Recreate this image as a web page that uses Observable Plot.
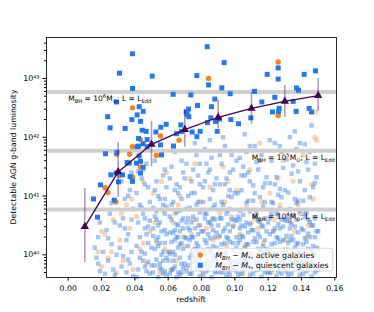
<!DOCTYPE html>
<html><head><meta charset="utf-8">
<script src="https://cdn.jsdelivr.net/npm/d3@7"></script>
<script src="https://cdn.jsdelivr.net/npm/@observablehq/plot@0.6"></script>
<style>
html,body{margin:0;padding:0;background:#fff;}
svg{font-family:"DejaVu Sans",sans-serif;}
</style>
</head><body>
<div id="chart"></div>
<script>
// ---- data (redshift, log10 luminosity) ----
const quiescentDetected = [[0.0386,43.42],[0.0308,43.09],[0.0386,42.83],[0.0290,42.60],[0.0426,42.52],[0.0450,42.44],[0.0414,42.38],[0.0237,42.35],[0.0252,42.16],[0.0342,42.15],[0.0382,42.30],[0.0434,42.27],[0.0468,42.10],[0.0422,41.98],[0.0422,41.85],[0.0474,41.96],[0.0526,42.09],[0.0556,42.17],[0.0588,42.22],[0.0632,41.85],[0.0630,42.73],[0.0676,42.21],[0.0708,42.43],[0.0722,42.48],[0.0504,43.04],[0.0292,41.74],[0.0224,41.72],[0.0680,42.10],[0.0834,43.54],[0.0936,43.27],[0.0772,43.05],[0.0842,42.89],[0.0922,42.84],[0.0972,42.74],[0.0736,42.72],[0.0880,42.65],[0.0776,42.54],[0.0860,42.52],[0.0724,42.35],[0.0856,42.33],[0.0908,42.31],[0.0976,42.30],[0.1022,42.23],[0.0894,42.10],[0.0836,42.25],[0.0792,42.10],[0.0772,42.01],[0.1096,42.33],[0.1162,42.60],[0.1194,43.07],[0.1240,42.68],[0.1226,42.43],[0.1260,43.18],[0.1260,42.99],[0.1118,42.78],[0.1350,42.61],[0.1370,42.84],[0.1382,42.80],[0.1416,43.07],[0.1484,43.13],[0.1368,42.44],[0.1446,42.49],[0.1460,42.43],[0.1262,42.44],[0.0152,40.95],[0.0176,40.64],[0.0194,41.19],[0.0276,40.93],[0.0256,41.36],[0.0288,41.39],[0.0372,41.33],[0.0366,41.56],[0.0410,41.56],[0.0434,41.39],[0.0434,41.59],[0.0326,41.36],[0.0302,41.24],[0.0386,41.25],[0.0414,41.84],[0.0450,41.89],[0.0354,41.57],[0.0426,41.68],[0.0450,41.49],[0.0444,42.12],[0.0650,42.06],[0.0744,42.09],[0.0560,41.70],[0.0474,41.84],[0.0554,41.87],[0.0884,42.27],[0.0714,42.39],[0.1266,42.49]];

const activeDetected = [[0.0386,42.50],[0.0434,41.96],[0.0554,42.02],[0.0665,41.95],[0.0385,41.84],[0.0290,41.71],[0.0369,41.71],[0.0529,41.69],[0.0843,43.00],[0.1260,43.28],[0.1260,42.37],[0.0221,41.14],[0.0238,41.06],[0.0287,40.90],[0.0308,41.35],[0.0387,41.32],[0.0434,41.49]];

const quiescentFaint = [
[0.017,39.95],[0.018,40.3],[0.019,39.72],[0.016,40.12],[0.019,40.55],[0.018,39.85],
[0.021,40.05],[0.022,39.68],[0.023,40.42],[0.024,39.9],[0.025,40.7],[0.026,40.18],[0.027,39.75],[0.028,40.55],[0.029,40.0],[0.026,40.88],[0.028,39.66],[0.024,40.28],
[0.031,40.12],[0.032,39.8],[0.033,40.62],[0.034,40.95],[0.035,39.7],[0.036,40.35],[0.037,41.1],[0.038,40.05],[0.039,40.78],[0.032,41.25],[0.034,40.45],[0.036,39.92],[0.038,41.4],[0.039,39.64],[0.031,40.5],[0.035,40.25],[0.037,39.85],[0.033,39.98],[0.038,40.6],[0.036,41.0],
[0.041,40.15],[0.042,39.75],[0.043,40.85],[0.044,41.3],[0.045,39.9],[0.046,40.45],[0.047,41.55],[0.048,40.2],[0.049,39.68],[0.041,41.05],[0.042,40.55],[0.043,39.95],[0.044,40.05],[0.045,40.7],[0.046,39.8],[0.047,40.35],[0.048,41.15],[0.049,40.9],[0.041,39.62],[0.043,40.3],[0.045,41.45],[0.047,39.72],[0.049,40.58],[0.044,40.8],[0.046,41.2],[0.048,39.88],[0.042,41.42],[0.046,40.02],
[0.051,39.7],[0.052,40.1],[0.053,40.6],[0.054,41.0],[0.055,39.85],[0.056,40.4],[0.057,41.35],[0.058,40.2],[0.059,39.65],[0.051,40.8],[0.052,41.6],[0.053,39.92],[0.054,40.3],[0.055,40.95],[0.056,39.75],[0.057,40.05],[0.058,40.7],[0.059,41.15],[0.051,40.45],[0.052,39.82],[0.053,41.25],[0.054,39.62],[0.055,40.55],[0.056,41.7],[0.057,39.9],[0.058,39.72],[0.059,40.35],[0.052,40.65],[0.054,40.15],[0.056,40.0],[0.058,41.45],[0.053,40.25],[0.055,39.78],[0.057,40.85],[0.059,39.95],
[0.061,39.68],[0.062,40.22],[0.063,40.9],[0.064,39.8],[0.065,41.2],[0.066,40.5],[0.067,39.95],[0.068,41.6],[0.069,40.1],[0.061,40.65],[0.062,39.74],[0.063,40.05],[0.064,40.42],[0.065,39.62],[0.066,41.05],[0.067,40.75],[0.068,39.85],[0.069,41.4],[0.061,41.3],[0.062,40.85],[0.063,39.9],[0.064,41.75],[0.065,40.3],[0.066,39.7],[0.067,40.18],[0.068,40.58],[0.069,39.78],[0.062,41.5],[0.064,40.0],[0.066,40.3],[0.068,40.95],[0.063,40.38],[0.065,40.72],[0.067,41.15],[0.069,40.45],[0.061,40.02],[0.063,41.85],[0.067,39.66],
[0.071,39.72],[0.072,40.15],[0.073,40.8],[0.074,41.25],[0.075,39.88],[0.076,40.45],[0.077,41.7],[0.078,40.05],[0.079,39.64],[0.071,40.55],[0.072,41.0],[0.073,39.95],[0.074,40.3],[0.075,41.45],[0.076,39.76],[0.077,40.2],[0.078,40.9],[0.079,41.2],[0.071,41.55],[0.072,39.82],[0.073,40.42],[0.074,39.68],[0.075,40.65],[0.076,41.9],[0.077,39.9],[0.078,40.35],[0.079,40.72],[0.072,40.62],[0.074,40.0],[0.076,40.1],[0.078,41.35],[0.073,40.25],[0.075,40.02],[0.077,40.85],[0.079,40.5],[0.071,40.28],[0.074,41.05],[0.078,39.78],
[0.081,39.66],[0.082,40.25],[0.083,40.7],[0.084,41.4],[0.085,39.8],[0.086,40.5],[0.087,41.1],[0.088,40.0],[0.089,39.72],[0.081,40.9],[0.082,41.8],[0.083,39.9],[0.084,40.35],[0.085,40.95],[0.086,39.62],[0.087,40.15],[0.088,40.6],[0.089,41.3],[0.081,40.4],[0.082,39.85],[0.083,41.55],[0.084,39.75],[0.085,40.55],[0.086,41.65],[0.087,39.95],[0.088,39.7],[0.089,40.38],[0.082,40.62],[0.084,40.1],[0.086,40.08],[0.088,41.2],[0.083,40.2],[0.085,40.05],[0.087,40.8],[0.089,39.88],[0.081,41.15],[0.085,41.95],[0.087,40.42],
[0.091,39.7],[0.092,40.18],[0.093,40.85],[0.094,39.82],[0.095,41.3],[0.096,40.52],[0.097,39.92],[0.098,41.7],[0.099,40.08],[0.091,40.62],[0.092,39.75],[0.093,40.02],[0.094,40.45],[0.095,39.64],[0.096,41.0],[0.097,40.78],[0.098,39.86],[0.099,41.45],[0.091,41.2],[0.092,40.9],[0.093,39.95],[0.094,41.85],[0.095,40.3],[0.096,39.72],[0.097,40.22],[0.098,40.6],[0.099,39.78],[0.092,41.55],[0.094,40.0],[0.096,40.28],[0.098,40.98],[0.093,40.4],[0.095,40.7],[0.097,41.1],[0.099,40.48],[0.091,40.05],[0.093,42.0],[0.097,39.66],
[0.101,39.72],[0.102,40.2],[0.103,40.75],[0.104,41.35],[0.105,39.85],[0.106,40.48],[0.107,41.75],[0.108,40.02],[0.109,39.66],[0.101,40.58],[0.102,41.05],[0.103,39.92],[0.104,40.32],[0.105,41.5],[0.106,39.76],[0.107,40.18],[0.108,40.92],[0.109,41.25],[0.101,41.6],[0.102,39.84],[0.103,40.45],[0.104,39.68],[0.105,40.68],[0.106,42.05],[0.107,39.9],[0.108,40.38],[0.109,40.74],[0.102,40.65],[0.104,40.05],[0.106,40.12],[0.108,41.4],[0.103,40.25],[0.105,40.0],[0.107,40.88],[0.109,40.52],[0.101,40.3],[0.104,41.1],[0.108,39.8],
[0.111,39.68],[0.112,40.28],[0.113,40.72],[0.114,41.45],[0.115,39.82],[0.116,40.5],[0.117,41.15],[0.118,40.02],[0.119,39.74],[0.111,40.92],[0.112,41.85],[0.113,39.9],[0.114,40.36],[0.115,40.98],[0.116,39.63],[0.117,40.15],[0.118,40.62],[0.119,41.32],[0.111,40.42],[0.112,39.86],[0.113,41.58],[0.114,39.76],[0.115,40.56],[0.116,41.7],[0.117,39.96],[0.118,39.7],[0.119,40.4],[0.112,40.64],[0.114,40.1],[0.116,40.08],[0.118,41.22],[0.113,40.22],[0.115,40.05],[0.117,40.82],[0.119,39.88],[0.111,41.18],
[0.121,39.7],[0.122,40.18],[0.123,40.88],[0.124,39.82],[0.125,41.32],[0.126,40.52],[0.127,39.92],[0.128,41.75],[0.129,40.08],[0.121,40.62],[0.122,39.75],[0.123,40.02],[0.124,40.45],[0.125,39.64],[0.126,41.02],[0.127,40.78],[0.128,39.86],[0.129,41.48],[0.121,41.22],[0.122,40.9],[0.123,39.95],[0.124,41.9],[0.125,40.3],[0.126,39.72],[0.127,40.22],[0.128,40.6],[0.129,39.78],[0.122,41.6],[0.124,40.0],[0.126,40.28],[0.128,40.98],[0.123,40.4],[0.125,40.7],[0.127,41.12],[0.129,40.48],[0.121,40.05],
[0.131,39.72],[0.132,40.2],[0.133,40.78],[0.134,41.38],[0.135,39.86],[0.136,40.48],[0.137,41.8],[0.138,40.04],[0.139,39.66],[0.131,40.58],[0.132,41.06],[0.133,39.92],[0.134,40.32],[0.135,41.52],[0.136,39.76],[0.137,40.18],[0.138,40.92],[0.139,41.25],[0.131,41.62],[0.132,39.84],[0.133,40.45],[0.134,39.68],[0.135,40.68],[0.136,42.1],[0.137,39.9],[0.138,40.38],[0.139,40.74],[0.132,40.65],[0.134,40.05],[0.136,40.12],[0.138,41.42],[0.133,40.25],[0.135,40.0],[0.137,40.88],
[0.141,39.68],[0.142,40.28],[0.143,40.72],[0.144,41.45],[0.145,39.82],[0.146,40.5],[0.147,41.15],[0.148,40.02],[0.149,39.74],[0.141,40.92],[0.142,41.88],[0.143,39.9],[0.144,40.36],[0.145,40.98],[0.146,39.63],[0.147,40.15],[0.148,40.62],[0.149,41.32],[0.141,40.42],[0.142,39.86],[0.143,41.58],[0.144,39.76],[0.145,40.56],[0.146,42.2],[0.147,39.96],[0.148,39.7],[0.149,40.4],[0.142,40.64],[0.144,40.1],[0.146,40.08],[0.148,41.22],[0.143,40.22],
[0.046,40.62],[0.048,40.48],[0.05,40.12],[0.05,39.82],[0.051,40.32],[0.053,40.74],[0.054,40.5],[0.055,40.2],[0.057,39.68],[0.058,40.42],[0.059,40.82],[0.06,40.05],[0.06,39.9],[0.061,40.38],[0.062,40.6],[0.063,39.76],[0.064,40.25],[0.065,40.52],[0.066,40.12],[0.067,40.4],[0.068,39.7],[0.068,40.2],[0.069,40.62],[0.07,39.85],[0.07,40.3],[0.071,40.78],[0.072,40.46],[0.073,39.68],[0.074,40.55],[0.075,40.3],[0.076,39.95],[0.077,40.6],[0.078,40.15],[0.079,39.95],[0.08,40.4],[0.08,39.75],[0.081,40.08],[0.082,40.7],[0.083,39.72],[0.084,40.55],[0.085,40.28],[0.086,39.88],[0.087,40.62],[0.088,40.3],[0.089,40.12],[0.09,39.8],[0.09,40.5],[0.091,40.32],[0.092,40.62],[0.093,39.7],[0.094,40.2],[0.095,40.05],[0.096,40.75],[0.097,40.4],[0.098,39.75],[0.099,40.2],[0.1,39.9],[0.1,40.6],[0.101,40.12],[0.102,39.66],[0.103,40.6],[0.104,40.5],[0.105,40.3],[0.106,39.92],[0.107,40.55],[0.108,40.18],[0.109,40.02],[0.11,39.78],[0.11,40.42],[0.111,40.22],[0.112,40.65],[0.113,39.74],[0.114,40.58],[0.115,40.3],[0.116,39.85],[0.117,40.48],[0.118,40.25],[0.119,40.1],[0.12,39.7],[0.12,40.55],[0.121,40.35],[0.122,40.7],[0.123,39.82],[0.124,40.2],[0.125,40.02],[0.126,40.68],[0.127,40.45],[0.128,39.68],[0.129,40.25],[0.13,39.9],[0.13,40.6],[0.131,40.32],[0.132,39.66],[0.133,40.58],[0.134,40.52],[0.135,40.25],[0.136,39.92],[0.137,40.6],[0.138,40.2],[0.139,40.05],[0.14,39.8],[0.14,40.45],[0.141,40.18],[0.142,40.7],[0.143,39.72],[0.144,40.6],[0.145,40.3],[0.146,39.88],[0.147,40.5],[0.148,40.3],[0.149,40.12],[0.15,39.75],[0.15,40.4],
[0.052,41.1],[0.058,40.95],[0.064,41.1],[0.07,41.3],[0.076,41.05],[0.082,41.25],[0.088,40.85],[0.094,41.2],[0.1,41.05],[0.106,41.35],[0.112,41.05],[0.118,40.9],[0.124,41.2],[0.13,41.1],[0.136,40.95],[0.142,41.1],[0.148,41.55],[0.145,41.75],[0.139,41.9],[0.133,42.0],[0.127,41.85],[0.121,41.95],[0.115,41.6],[0.109,41.85],[0.103,41.65],[0.097,41.4],[0.091,41.7],[0.085,41.45],[0.079,41.55]
];

const activeFaint = [[0.018,40.05],[0.02,39.8],[0.022,40.35],[0.024,39.95],[0.027,40.6],[0.029,39.7],[0.031,40.25],[0.033,39.9],[0.035,40.85],[0.037,40.45],[0.039,39.75],[0.041,40.65],[0.043,40.1],[0.045,41.25],[0.047,39.85],[0.049,40.4],[0.051,41.05],[0.053,40.2],[0.055,39.7],[0.057,40.75],[0.059,41.4],[0.061,40.05],[0.063,40.55],[0.065,39.9],[0.067,41.0],[0.069,40.3],[0.071,39.78],[0.073,41.3],[0.075,40.6],[0.077,40.1],[0.079,40.9],[0.081,39.72],[0.083,40.45],[0.085,41.15],[0.087,40.25],[0.089,39.95],[0.091,40.7],[0.093,41.5],[0.095,40.15],[0.097,39.82],[0.099,40.5],[0.101,41.1],[0.103,40.35],[0.105,39.68],[0.107,40.8],[0.109,41.45],[0.111,40.0],[0.113,40.6],[0.115,41.9],[0.117,40.2],[0.119,39.76],[0.121,41.05],[0.123,40.4],[0.125,39.92],[0.127,40.85],[0.129,41.6],[0.131,40.1],[0.133,40.55],[0.135,41.25],[0.137,39.85],[0.139,40.7],[0.141,41.7],[0.143,40.3],[0.145,39.8],[0.147,40.95],[0.149,41.95],[0.056,41.25],[0.066,40.85],[0.076,41.55],[0.086,40.6],[0.096,41.25],[0.106,40.15],[0.116,40.9],[0.126,41.3],[0.136,40.4],[0.146,41.2],[0.062,39.75],[0.082,40.02],[0.102,39.85],[0.122,39.7],[0.142,40.05],[0.074,40.35],[0.094,40.9],[0.114,40.45],[0.134,39.95],[0.148,42.0],[0.1484,42.43],
[0.052,40.55],[0.058,40.1],[0.064,40.7],[0.07,40.15],[0.078,40.5],[0.084,39.85],[0.09,40.3],[0.098,40.65],[0.104,40.0],[0.11,40.55],[0.118,40.05],[0.124,40.6],[0.13,40.25],[0.138,40.85],[0.144,40.5],[0.15,40.1],[0.045,40.2],[0.038,40.95],[0.032,40.7],[0.026,40.05],[0.02,40.4]];

// detectable-luminosity curve (median, error range)
const limitZ    = [0.01, 0.03, 0.05, 0.07, 0.09, 0.11, 0.13, 0.15];
const limitLogL = [40.48, 41.41, 41.88, 42.13, 42.34, 42.49, 42.61, 42.71];
const limitLo   = [39.87, 40.98, 41.50, 41.83, 42.15, 42.22, 42.34, 42.44];
const limitHi   = [41.13, 41.91, 42.27, 42.47, 42.63, 42.76, 42.88, 43.00];

// Eddington reference levels
const eddLogL  = [42.77, 41.77, 40.77];
const eddLabel = ["M_{BH} = 10^{6}M_{⊙}; L = L_{Edd}", "M_{BH} = 10^{5}M_{⊙}; L = L_{Edd}", "M_{BH} = 10^{4}M_{⊙}; L = L_{Edd}"];
const eddLabelZ = [0.0, 0.16, 0.16];
const eddLabelLogL = [42.66, 41.65, 40.65];

const xTicks = [0.00, 0.02, 0.04, 0.06, 0.08, 0.10, 0.12, 0.14, 0.16];
const yMajorExp = [40, 41, 42, 43];
const legendLabels = ["$M_{BH} − M_{*}$, active galaxies", "$M_{BH} − M_{*}$, quiescent galaxies"];

// ---- build ----
const BLUE = "#2378ec", ORANGE = "#f5821f", PURPLE = "#440154";
const P = d => ({z: d[0], L: 10 ** d[1]});
const qD = quiescentDetected.map(P), aD = activeDetected.map(P);
const qF = quiescentFaint.map(P), aF = activeFaint.map(P);
const limit = limitZ.map((z, i) => ({z, L: 10 ** limitLogL[i], lo: 10 ** limitLo[i], hi: 10 ** limitHi[i]}));
const ann = eddLabel.map((t, i) => ({t, z: eddLabelZ[i], L: 10 ** eddLabelLogL[i], left: i === 0}));
const yDomain = [10 ** 39.614, 10 ** 43.697];
const yMinor = [];
for (let e = 39; e <= 43; e++) for (let m = 2; m <= 9; m++) { const v = m * 10 ** e; if (v > yDomain[0] && v < yDomain[1]) yMinor.push(v); }
const supDigits = {"0":"⁰","1":"¹","2":"²","3":"³","4":"⁴","5":"⁵","6":"⁶","7":"⁷","8":"⁸","9":"⁹"};
const supFmt = v => "10" + String(Math.round(Math.log10(v))).split("").map(c => supDigits[c]).join("");

const chart = Plot.plot({
  width: 374, height: 312,
  marginLeft: 46, marginRight: 38, marginTop: 37, marginBottom: 35,
  style: {fontFamily: "DejaVu Sans", fontSize: "7.8px", color: "#000", background: "#fff"},
  x: {domain: [-0.013, 0.161]},
  y: {type: "log", domain: yDomain},
  marks: [
    Plot.dot(aF, {x: "z", y: "L", r: 2.6, fill: ORANGE, fillOpacity: 0.35, stroke: null}),
    Plot.dot(qF, {x: "z", y: "L", symbol: "square", r: 2.5, fill: BLUE, fillOpacity: 0.42, stroke: null}),
    Plot.ruleY(eddLogL.map(v => 10 ** v), {stroke: "#cfcfcf", strokeWidth: 4}),
    Plot.dot(aD, {x: "z", y: "L", r: 2.7, fill: ORANGE, stroke: null}),
    Plot.dot(qD, {x: "z", y: "L", symbol: "square", r: 2.8, fill: BLUE, stroke: null}),
    Plot.ruleX(limit, {x: "z", y1: "lo", y2: "hi", stroke: PURPLE, strokeOpacity: 0.4, strokeWidth: 1.6}),
    Plot.line(limit, {x: "z", y: "L", stroke: PURPLE, strokeWidth: 1.3}),
    Plot.dot(limit, {x: "z", y: "L", symbol: "triangle", r: 3.1, fill: PURPLE, stroke: null}),
    Plot.text(ann.filter(d => d.left), {x: "z", y: "L", text: "t", textAnchor: "start", fontSize: 7.5, fill: "#000", className: "ann"}),
    Plot.text(ann.filter(d => !d.left), {x: "z", y: "L", text: "t", textAnchor: "end", fontSize: 7.5, fill: "#000", className: "ann"}),
    Plot.frame({stroke: "#111", strokeWidth: 0.9}),
    Plot.axisX({ticks: xTicks, tickFormat: d => d.toFixed(2), tickSize: 3.5, tickPadding: 4.5, label: null}),
    Plot.axisY({ticks: yMajorExp.map(e => 10 ** e), tickFormat: supFmt, tickSize: 3.5, tickPadding: 3.5, label: null}),
    Plot.axisY({ticks: yMinor, tickFormat: () => "", tickSize: 2, label: null})
  ]
});
document.getElementById("chart").appendChild(chart);

// rich text helper: _{sub}, ^{sup}, $italic$
function rich(sel, s, fs) {
  sel.text(null);
  let italic = false, shift = 0;
  for (const part of s.split(/(_\{[^}]*\}|\^\{[^}]*\}|\$)/)) {
    if (!part) continue;
    if (part === "$") { italic = !italic; continue; }
    let kind = "n", txt = part;
    if (part.startsWith("_{")) { kind = "sub"; txt = part.slice(2, -1); }
    else if (part.startsWith("^{")) { kind = "sup"; txt = part.slice(2, -1); }
    const target = kind === "sub" ? fs * 0.28 : kind === "sup" ? -fs * 0.42 : 0;
    const t = sel.append("tspan").text(txt).attr("font-size", kind === "n" ? fs : fs * 0.7);
    if (target - shift !== 0) t.attr("dy", target - shift);
    if (italic) t.attr("font-style", "italic");
    shift = target;
  }
}
const svg = d3.select(chart);
svg.selectAll("g.ann text").each(function() { rich(d3.select(this), d3.select(this).text(), 7.5); });

// axis titles
svg.append("text").attr("x", 191).attr("y", 302).attr("text-anchor", "middle").attr("font-size", 7.8).attr("fill", "#000").text("redshift");
svg.append("text").attr("transform", "translate(16,157) rotate(-90)").attr("text-anchor", "middle").attr("font-size", 7.8).attr("fill", "#000").text("Detectable AGN g-band luminosity");

// legend
const lg = svg.append("g");
lg.append("rect").attr("x", 191).attr("y", 248.3).attr("width", 141.7).attr("height", 22.7).attr("rx", 2).attr("fill", "#fff").attr("fill-opacity", 0.8).attr("stroke", "#d0d0d0").attr("stroke-width", 0.8);
lg.append("circle").attr("cx", 200.3).attr("cy", 255).attr("r", 2.7).attr("fill", ORANGE);
lg.append("rect").attr("x", 197.8).attr("y", 262.8).attr("width", 5).attr("height", 5).attr("fill", BLUE);
legendLabels.forEach((s, i) => {
  const t = lg.append("text").attr("x", 215.3).attr("y", [255, 265.3][i] + 2.7).attr("text-anchor", "start").attr("font-size", 7.8).attr("fill", "#000");
  rich(t, s, 7.8);
});
</script>
</body></html>
